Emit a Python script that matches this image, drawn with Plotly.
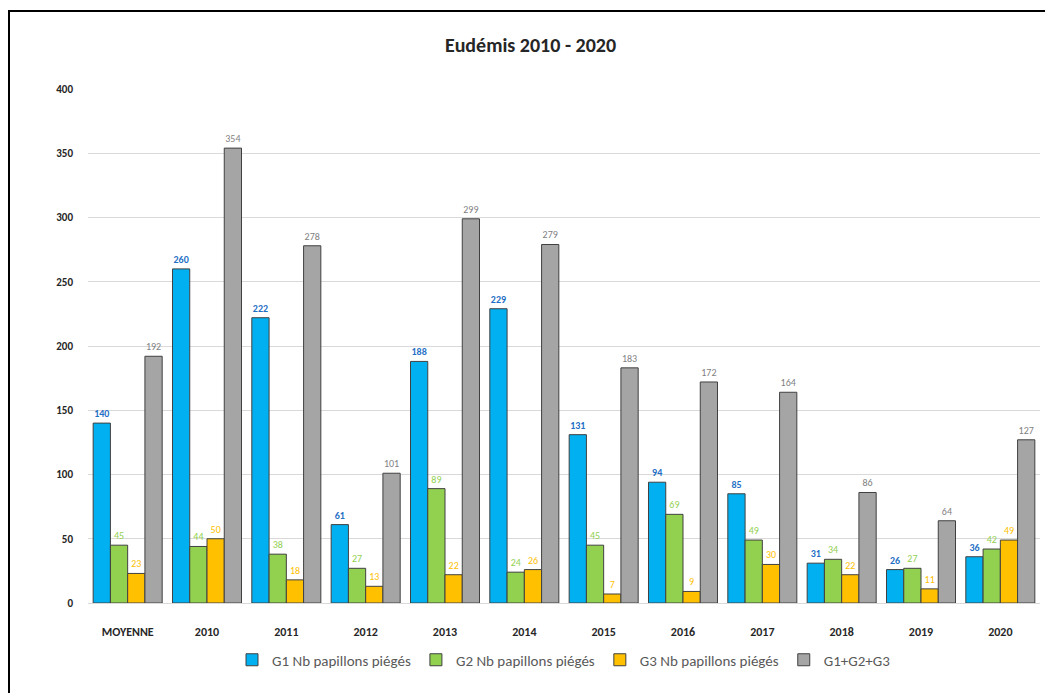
import plotly.graph_objects as go

categories = ["MOYENNE", "2010", "2011", "2012", "2013", "2014", "2015", "2016", "2017", "2018", "2019", "2020"]
g1 = [140, 260, 222, 61, 188, 229, 131, 94, 85, 31, 26, 36]
g2 = [45, 44, 38, 27, 89, 24, 45, 69, 49, 34, 27, 42]
g3 = [23, 50, 18, 13, 22, 26, 7, 9, 30, 22, 11, 49]
total = [192, 354, 278, 101, 299, 279, 183, 172, 164, 86, 64, 127]

series_names = ["G1 Nb papillons piégés", "G2 Nb papillons piégés", "G3 Nb papillons piégés", "G1+G2+G3"]
colors = ["#00B0F0", "#92D050", "#FFC000", "#A5A5A5"]
label_colors = ["#1F6FC5", "#92D050", "#FFC000", "#7F7F7F"]
label_bold = [True, False, False, False]

FONT = "Carlito, Liberation Sans Narrow, Lato, sans-serif"

fig = go.Figure()
for name, vals, c, lc, b in zip(series_names, [g1, g2, g3, total], colors, label_colors, label_bold):
    fig.add_trace(go.Bar(
        name=name, x=categories, y=vals,
        marker=dict(color=c, line=dict(color="#404040", width=1)),
        text=[f"<b>{v}</b>" if b else str(v) for v in vals],
        textposition="outside", cliponaxis=False,
        textfont=dict(color=lc, size=10, family=FONT),
    ))

# page has an 8px body margin; figure coordinates = page coordinates - 8
W, H = 1045, 685
ml, mr, mt, mb = 80, 13, 81, 90
pw, ph = W - ml - mr, H - mt - mb

def px_x(p):
    return (p - ml) / pw

def px_y(p):
    return 1 - (p - mt) / ph

fig.update_layout(
    width=W, height=H,
    margin=dict(l=ml, r=mr, t=mt, b=mb),
    paper_bgcolor="white", plot_bgcolor="white",
    barmode="group", bargap=0.13, bargroupgap=0,
    title=dict(text="<b>Eudémis 2010 - 2020</b>", x=0.5, xanchor="center",
               y=1 - 37 / H, yanchor="middle",
               font=dict(family=FONT, size=20, color="#262626")),
    font=dict(family=FONT),
    xaxis=dict(tickfont=dict(size=12, color="#262626", family=FONT),
               tickprefix="<b>", ticksuffix="</b>",
               showline=True, linecolor="#D9D9D9", ticks="", ticklabelstandoff=18),
    yaxis=dict(range=[0, 400], dtick=50, showgrid=True, gridcolor="#D9D9D9",
               zeroline=False, tickprefix="<b>", ticksuffix="</b>",
               tickfont=dict(size=11, color="#262626", family=FONT), ticks="",
               ticklabelstandoff=14),
    legend=dict(orientation="h", x=0.5, xanchor="center", y=px_y(652), yanchor="middle",
                font=dict(size=15, color="#595959", family=FONT), itemwidth=30,
                traceorder="normal"),
    shapes=[dict(type="rect", xref="paper", yref="paper",
                 x0=px_x(1), x1=px_x(1070), y0=px_y(3), y1=px_y(710),
                 line=dict(color="#000000", width=2), layer="above")],
)

fig.write_html("out.html")
